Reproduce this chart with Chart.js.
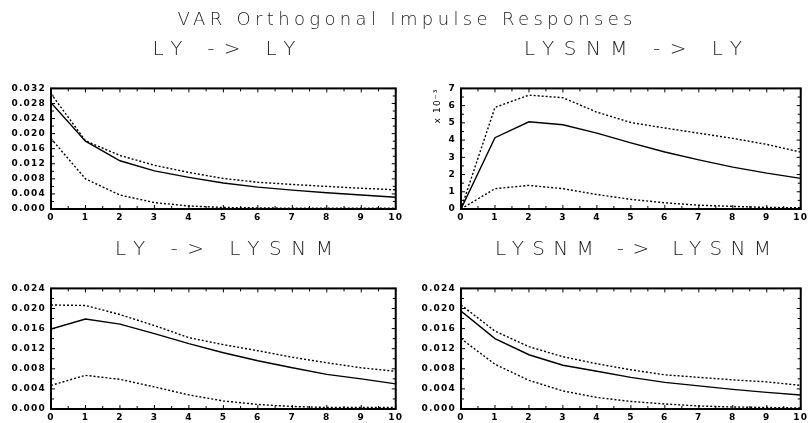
<!DOCTYPE html>
<html>
<head>
<meta charset="utf-8">
<script src="https://cdn.jsdelivr.net/npm/chart.js@4/dist/chart.umd.min.js"></script>
<style>
body { margin: 0; background: #fff; width: 810px; height: 423px; overflow: hidden; position: relative; font-family: "DejaVu Sans", sans-serif; }
.ttl { position: absolute; text-align: center; white-space: nowrap; color: #222; font-weight: 200; line-height: 22px; will-change: transform; }
.panel { position: absolute; }
</style>
</head>
<body>
<div class="ttl" style="left:0;top:8px;width:810px;font-size:18px" data-w="455"><span>VAR Orthogonal Impulse Responses</span></div>
<div class="ttl" style="left:51px;top:37px;width:346px;font-size:20px" data-w="143"><span>LY -&gt; LY</span></div>
<div class="ttl" style="left:461px;top:37px;width:344px;font-size:20px" data-w="218"><span>LYSNM -&gt; LY</span></div>
<div class="ttl" style="left:51px;top:237px;width:346px;font-size:20px" data-w="218"><span>LY -&gt; LYSNM</span></div>
<div class="ttl" style="left:461px;top:237px;width:344px;font-size:20px" data-w="276"><span>LYSNM -&gt; LYSNM</span></div>

<div class="panel" style="left:0;top:78px"><canvas id="c1" width="405" height="146"></canvas></div>
<div class="panel" style="left:405px;top:78px"><canvas id="c2" width="405" height="146"></canvas></div>
<div class="panel" style="left:0;top:278px"><canvas id="c3" width="405" height="146"></canvas></div>
<div class="panel" style="left:405px;top:278px"><canvas id="c4" width="405" height="146"></canvas></div>

<script>
// horizon (steps after the shock)
const steps = [0, 1, 2, 3, 4, 5, 6, 7, 8, 9, 10];

// LY -> LY
const lyLy      = [0.0282, 0.0180, 0.0128, 0.0101, 0.0084, 0.0069, 0.0058, 0.0050, 0.0043, 0.0037, 0.0031];
const lyLyUp    = [0.0306, 0.0181, 0.0142, 0.0116, 0.0097, 0.0081, 0.0071, 0.0065, 0.0060, 0.0055, 0.0051];
const lyLyLo    = [0.0187, 0.0080, 0.0037, 0.0017, 0.0008, 0.0004, 0.0003, 0.0002, 0.0002, 0.0002, 0.0002];

// LYSNM -> LY
const lysnmLy   = [0, 0.00414, 0.00506, 0.00489, 0.00440, 0.00384, 0.00331, 0.00285, 0.00243, 0.00208, 0.00178];
const lysnmLyUp = [0, 0.00590, 0.00661, 0.00646, 0.00562, 0.00502, 0.00470, 0.00440, 0.00410, 0.00375, 0.00330];
const lysnmLyLo = [0, 0.00118, 0.00137, 0.00118, 0.00084, 0.00056, 0.00036, 0.00022, 0.00015, 0.00009, 0.00007];

// LY -> LYSNM
const lyLysnm   = [0.0159, 0.0179, 0.0169, 0.0150, 0.0130, 0.0112, 0.0096, 0.0082, 0.0069, 0.0060, 0.0050];
const lyLysnmUp = [0.0207, 0.0206, 0.0188, 0.0166, 0.0142, 0.0128, 0.0116, 0.0103, 0.0092, 0.0082, 0.0075];
const lyLysnmLo = [0.0047, 0.0067, 0.0059, 0.0044, 0.0028, 0.0016, 0.0009, 0.0005, 0.0003, 0.0003, 0.0003];

// LYSNM -> LYSNM
const lysnmLysnm   = [0.0195, 0.0140, 0.0108, 0.0087, 0.0075, 0.0063, 0.0053, 0.0046, 0.0039, 0.0033, 0.0028];
const lysnmLysnmUp = [0.0207, 0.0155, 0.0124, 0.0104, 0.0090, 0.0078, 0.0068, 0.0063, 0.0058, 0.0054, 0.0047];
const lysnmLysnmLo = [0.0140, 0.0089, 0.0057, 0.0036, 0.0023, 0.0015, 0.0010, 0.0006, 0.0004, 0.0003, 0.0002];

// stretch the titles out to the width of the original lettering
document.querySelectorAll('.ttl').forEach(el => {
    let span = el.querySelector('span');
    let n = span.textContent.length;
    let w = span.getBoundingClientRect().width;
    let ls = (Number(el.dataset.w) - w) / (n - 1);
    span.style.letterSpacing = ls + 'px';
    span.style.marginLeft = ls + 'px';
});

function isMajor(v, major) {
    return Math.abs(v / major - Math.round(v / major)) < 1e-6;
}

// inward tick marks on all four sides plus the heavy frame
const frameTicks = {
    id: 'frameTicks',
    beforeDraw(chart) {
        chart.ctx.letterSpacing = '1.2px';
    },
    afterDraw(chart) {
        const ctx = chart.ctx;
        const a = chart.chartArea;
        const x = chart.scales.x;
        const y = chart.scales.y;
        const yMajor = chart.options.scales.y.major;
        ctx.save();
        ctx.strokeStyle = '#000';
        ctx.lineWidth = 1;
        ctx.beginPath();
        x.ticks.forEach(t => {
            let px = x.getPixelForValue(t.value);
            let len = Number.isInteger(t.value) ? 4 : 3;
            ctx.moveTo(px, a.bottom); ctx.lineTo(px, a.bottom - len);
            ctx.moveTo(px, a.top); ctx.lineTo(px, a.top + len);
        });
        y.ticks.forEach(t => {
            let py = y.getPixelForValue(t.value);
            let len = isMajor(t.value, yMajor) ? 4 : 3;
            ctx.moveTo(a.left, py); ctx.lineTo(a.left + len, py);
            ctx.moveTo(a.right, py); ctx.lineTo(a.right - len, py);
        });
        ctx.stroke();
        ctx.lineWidth = 2;
        ctx.strokeRect(a.left, a.top, a.width, a.height);
        ctx.restore();
    }
};

function toPoints(vals) {
    return steps.map((s, i) => ({x: s, y: vals[i]}));
}

const tickFont = {family: 'DejaVu Sans', size: 9, weight: 'bold'};

function makeChart(id, resp, upper, lower, yMax, yMajor, fmt, extra) {
    extra = extra || {};
    let line = {borderColor: '#000', borderWidth: 1.4, pointRadius: 0, fill: false, tension: 0};
    let dotted = Object.assign({}, line, {borderDash: [2, 2], borderWidth: 1.4});
    return new Chart(document.getElementById(id), {
        type: 'line',
        data: {
            datasets: [
                Object.assign({label: 'response', data: toPoints(resp)}, line),
                Object.assign({label: 'upper', data: toPoints(upper)}, dotted),
                Object.assign({label: 'lower', data: toPoints(lower)}, dotted)
            ]
        },
        plugins: [frameTicks],
        options: {
            responsive: false,
            animation: false,
            layout: {autoPadding: false, padding: {left: extra.padLeft || 0, right: extra.padRight || 8, top: 7, bottom: 0}},
            plugins: {legend: {display: false}, tooltip: {enabled: false}},
            scales: {
                x: {
                    type: 'linear', min: 0, max: 10,
                    grid: {display: false, drawTicks: false},
                    border: {display: false},
                    afterFit: s => { s.height = 15; },
                    ticks: {
                        stepSize: 0.5, autoSkip: false, maxRotation: 0, padding: 3,
                        color: '#000', font: tickFont,
                        callback: v => Number.isInteger(v) ? String(v) : ''
                    }
                },
                y: {
                    min: 0, max: yMax,
                    major: yMajor,
                    grid: {display: false, drawTicks: false},
                    border: {display: false},
                    afterFit: s => { s.width = extra.yWidth || 51; },
                    title: extra.yTitle ? {
                        display: true, text: extra.yTitle, align: 'end', color: '#000',
                        padding: 0, font: {family: 'DejaVu Sans', size: 9}
                    } : {display: false},
                    ticks: {
                        stepSize: yMajor / 2, autoSkip: false, padding: 5,
                        color: '#000', font: tickFont,
                        callback: v => isMajor(v, yMajor) ? fmt(v) : ''
                    }
                }
            }
        }
    });
}

const fmt3 = v => v.toFixed(3);
const fmtE3 = v => String(Math.round(v * 1000));

makeChart('c1', lyLy, lyLyUp, lyLyLo, 0.032, 0.004, fmt3);
makeChart('c2', lysnmLy, lysnmLyUp, lysnmLyLo, 0.007, 0.001, fmtE3,
    {padLeft: 27, yWidth: 29, padRight: 5, yTitle: 'x 10\u207B\u00B3'});
makeChart('c3', lyLysnm, lyLysnmUp, lyLysnmLo, 0.024, 0.004, fmt3);
makeChart('c4', lysnmLysnm, lysnmLysnmUp, lysnmLysnmLo, 0.024, 0.004, fmt3,
    {yWidth: 56, padRight: 5});
</script>
</body>
</html>
